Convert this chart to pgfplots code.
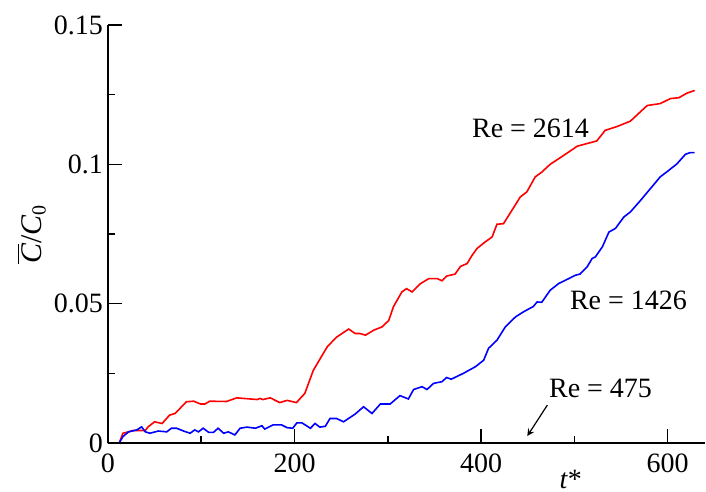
\documentclass[border=0pt]{standalone}
\usepackage{fontspec}
\setmainfont{Liberation Serif}
\usepackage{pgfplots}
\pgfplotsset{compat=1.18}
\begin{document}
\begin{tikzpicture}[font=\fontsize{14}{16}\selectfont]
\begin{axis}[
  at={(0,0)}, anchor=south west,
  scale only axis, width=298.5pt, height=209pt,
  xmin=0, xmax=640, ymin=0, ymax=0.15,
  axis x line=bottom, axis y line=left,
  axis line style={-, line width=1pt},
  xtick={0,200,400,600}, minor xtick={100,300,500},
  ytick={0,0.05,0.1,0.15}, yticklabels={0,0.05,0.1,0.15},
  minor ytick={0.025,0.075,0.125},
  tick align=inside,
  major tick length=7pt, minor tick length=3.5pt,
  tick style={black, line width=0.8pt},
  /pgf/number format/assume math mode=true,
  xticklabel style={yshift=-2pt},
  yticklabel style={xshift=1pt},
  xlabel={\textit{t}*},
  xlabel style={at={(rel axis cs:0.775,0)}, anchor=north, yshift=-10pt},
  ylabel={$\overline{\mbox{\itshape C}}$/\textit{C}$_{\mbox{\fontsize{10}{10}\selectfont 0}}$},
  ylabel style={at={(rel axis cs:0,0.5)}, anchor=south, yshift=27.5pt, font=\fontsize{15}{17}\selectfont},
  clip=false,
]
\addplot[red, line width=0.8pt] coordinates {
(0,0) (12,0) (16,0.0035) (22,0.004) (27,0.0045) (40,0.0045) (43,0.0058) (50,0.0076) (58,0.007) (66,0.010) (72,0.0106) (84,0.0148) (92,0.015) (99,0.014) (104,0.014) (109,0.015) (127,0.0149) (138,0.0162) (160,0.0156) (163,0.016) (166,0.0156) (174,0.0162) (184,0.0145) (192,0.0153) (202,0.0145) (211,0.0178) (220,0.026) (227,0.030) (235,0.0345) (245,0.038) (258,0.0409) (265,0.0393) (270,0.0393) (276,0.0387) (285,0.0405) (294,0.0417) (301,0.044) (306,0.0489) (315,0.0542) (320,0.0554) (326,0.0542) (335,0.0572) (344,0.059) (353,0.059) (358,0.0582) (363,0.0599) (372,0.0606) (378,0.0634) (385,0.0644) (390,0.0672) (395.6,0.0698) (404.5,0.0722) (411.7,0.0739) (417,0.0785) (424,0.0787) (433,0.0835) (442,0.0883) (449,0.0901) (458,0.0955) (465,0.0972) (474,0.100) (488.5,0.1032) (503,0.1065) (524,0.1084) (533,0.1122) (546,0.1136) (560,0.1155) (578,0.1211) (592,0.1218) (603,0.1236) (612,0.1239) (621,0.1256) (629,0.1265)
};
\addplot[blue, line width=0.8pt] coordinates {
(0,0) (12,0) (16,0.0023) (22,0.004) (31,0.0047) (36,0.0058) (40,0.004) (45,0.0035) (54,0.0043) (63,0.004) (68,0.0053) (73.5,0.0053) (81,0.0043) (88,0.0035) (93,0.0047) (97,0.004) (102,0.0053) (108,0.0038) (113,0.0038) (118,0.0053) (124,0.0035) (129,0.004) (136,0.0029) (141.6,0.0053) (149,0.0057) (158,0.0053) (165,0.0062) (168,0.005) (177,0.0065) (186,0.0065) (192,0.0055) (198,0.0053) (202.5,0.0072) (208,0.0072) (217,0.0053) (222,0.007) (227,0.0057) (233,0.006) (238,0.0088) (245,0.0088) (252.5,0.0076) (265,0.0104) (274,0.013) (283,0.0106) (292,0.014) (302.5,0.014) (313,0.017) (322,0.0158) (327.6,0.0192) (336.6,0.0202) (342,0.0192) (349,0.0214) (358,0.022) (363,0.0235) (368,0.0229) (381,0.025) (394,0.0274) (402.7,0.0297) (408,0.034) (417,0.0369) (426,0.0417) (437,0.0453) (445.6,0.0471) (456,0.049) (460,0.0506) (465,0.0505) (474,0.0548) (483,0.0572) (494,0.059) (501,0.0602) (506,0.0606) (513.6,0.0632) (519,0.0662) (522.5,0.0668) (530,0.0704) (537,0.0757) (544,0.077) (553,0.0811) (560,0.0829) (571,0.0871) (583,0.0919) (592,0.0955) (601,0.0978) (610,0.1002) (619,0.1036) (624,0.1042) (629,0.1042)
};
\addplot[black, line width=1pt] coordinates {(0,0) (640,0)};
\node[font=\fontsize{14}{16}\selectfont] at (axis cs:453,0.113) {Re = 2614};
\node[font=\fontsize{14}{16}\selectfont] at (axis cs:558,0.0513) {Re = 1426};
\node[font=\fontsize{14}{16}\selectfont] at (axis cs:528,0.0197) {Re = 475};
\draw[-stealth, line width=0.6pt] (axis cs:471,0.0136) -- (axis cs:449.5,0.0025);
\end{axis}
\pgfresetboundingbox
\path[use as bounding box] (-54pt,-24.5pt) rectangle (299pt,221.5pt);
\end{tikzpicture}
\end{document}
